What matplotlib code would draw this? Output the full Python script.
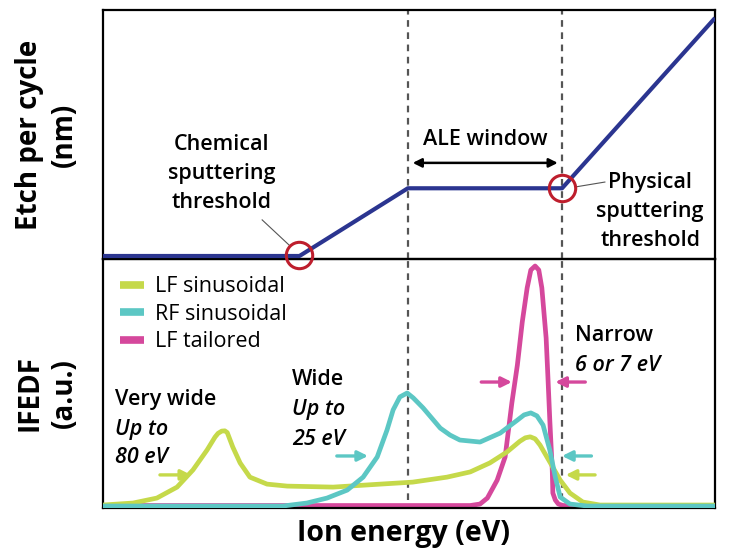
"""Etch per cycle and IFEDF versus ion energy (ALE window illustration)."""

import matplotlib

matplotlib.use("Agg")
import matplotlib.pyplot as plt

# --- top panel: etch per cycle (normalised units) ---
EPC_ENERGY = [0.0, 32.1, 49.8, 75.0, 100.0]
EPC_VALUE = [0.012, 0.012, 0.284, 0.284, 0.968]
CHEM_THRESHOLD = (32.1, 0.016)
PHYS_THRESHOLD = (75.0, 0.284)
ALE_WINDOW = (49.8, 75.0)

# --- bottom panel: ion energy distributions (a.u.) ---
LF_SIN_E = [0.0, 4.9, 8.8, 12.1, 14.7, 17.0, 18.3, 18.8, 19.4, 19.9, 20.3,
            21.2, 22.4, 24.0, 26.8, 30.1, 37.6, 45.3, 50.6, 56.2, 60.0,
            63.2, 66.0, 68.1, 69.0, 69.8, 70.6, 71.4, 73.0, 74.7, 76.3,
            78.4, 81.2, 100.0]
LF_SIN_F = [0.012, 0.020, 0.040, 0.084, 0.153, 0.233, 0.285, 0.300, 0.309,
            0.310, 0.303, 0.245, 0.181, 0.124, 0.096, 0.088, 0.084, 0.096,
            0.104, 0.124, 0.145, 0.181, 0.225, 0.268, 0.282, 0.286, 0.278,
            0.253, 0.185, 0.112, 0.060, 0.024, 0.012, 0.012]

RF_SIN_E = [0.0, 29.4, 33.3, 36.6, 39.9, 42.5, 44.8, 46.4, 47.4, 48.5,
            49.7, 50.7, 52.3, 55.1, 56.7, 58.3, 61.6, 64.9, 67.7, 68.8,
            69.9, 70.9, 71.9, 73.0, 73.9, 74.7, 76.3, 79.1, 100.0]
RF_SIN_F = [0.008, 0.008, 0.020, 0.040, 0.072, 0.124, 0.205, 0.313, 0.394,
            0.446, 0.462, 0.442, 0.402, 0.321, 0.293, 0.273, 0.265, 0.301,
            0.353, 0.374, 0.382, 0.370, 0.333, 0.233, 0.124, 0.044, 0.016,
            0.008, 0.008]

LF_TAIL_E = [0.0, 60.0, 61.6, 62.8, 64.4, 65.7, 66.8, 67.7, 68.5, 69.3,
             69.9, 70.6, 71.2, 71.7, 72.4, 72.7, 73.0, 73.4, 73.5, 73.9,
             74.4, 75.2, 100.0]
LF_TAIL_F = [0.010, 0.010, 0.016, 0.040, 0.112, 0.205, 0.422, 0.574, 0.747,
             0.884, 0.956, 0.972, 0.956, 0.884, 0.683, 0.522, 0.353, 0.153,
             0.060, 0.032, 0.016, 0.010, 0.010]

SERIES_LABELS = ["LF sinusoidal", "RF sinusoidal", "LF tailored"]

NAVY = "#2B3590"
RED = "#BE1E2D"
LIME = "#C5D94A"
TEAL = "#5CC7C4"
PINK = "#D5489C"
DASH = "#555555"

FONT = ["Open Sans", "DejaVu Sans"]
NOTE_SIZE = 15.5
LABEL_SIZE = 20


def _arrow(ax, start, end, color, lw=2.4, style="-|>", scale=15):
    ax.annotate(
        "", xy=end, xytext=start,
        arrowprops=dict(arrowstyle=style, color=color, lw=lw,
                        mutation_scale=scale, shrinkA=0, shrinkB=0),
    )


def main():
    plt.rcParams["font.family"] = FONT
    fig = plt.figure(figsize=(7.38, 5.56), dpi=100)
    ax_top = fig.add_axes([0.1396, 0.5342, 0.8293, 0.4478])
    ax_bot = fig.add_axes([0.1396, 0.0863, 0.8293, 0.4478])
    ax_bot.patch.set_alpha(0)
    ax_top.set_zorder(2)
    ax_top.patch.set_alpha(0)

    for ax in (ax_top, ax_bot):
        ax.set_xlim(0, 100)
        ax.set_ylim(0, 1)
        ax.set_xticks([])
        ax.set_yticks([])
        for spine in ax.spines.values():
            spine.set_linewidth(1.6)
            spine.set_color("black")

    # dashed ALE window bounds
    for x in ALE_WINDOW:
        ax_top.axvline(x, color=DASH, lw=1.6, ls=(0, (3, 2.5)), zorder=1)
        ax_bot.axvline(x, ymin=0.032, color=DASH, lw=1.6, ls=(0, (3, 2.5)),
                       zorder=1)

    # top panel
    ax_top.plot(EPC_ENERGY, EPC_VALUE, color=NAVY, lw=3.0, zorder=3,
                solid_capstyle="butt")
    for cx, cy in (CHEM_THRESHOLD, PHYS_THRESHOLD):
        ax_top.plot(cx, cy, marker="o", ms=19, mfc="none", mec=RED, mew=2.2,
                    clip_on=False, zorder=4)

    note = dict(fontsize=NOTE_SIZE, fontweight="semibold")
    ax_top.text(19.4, 0.345, "Chemical\nsputtering\nthreshold", ha="center",
                va="center", linespacing=1.5, **note)
    ax_top.plot([26.0, 30.4], [0.157, 0.056], color="#555555", lw=0.8)
    ax_top.text(89.4, 0.19, "Physical\nsputtering\nthreshold", ha="center",
                va="center", linespacing=1.5, **note)
    ax_top.plot([77.1, 82.0], [0.289, 0.309], color="#555555", lw=0.8)
    ax_top.text(62.4, 0.48, "ALE window", ha="center", va="center", **note)
    _arrow(ax_top, (50.6, 0.386), (74.3, 0.386), "black", lw=1.8,
           style="<|-|>", scale=13)

    # bottom panel
    styles = dict(lw=3.4, solid_joinstyle="round", solid_capstyle="round")
    ax_bot.plot(LF_SIN_E, LF_SIN_F, color=LIME, label=SERIES_LABELS[0],
                zorder=3, **styles)
    ax_bot.plot(RF_SIN_E, RF_SIN_F, color=TEAL, label=SERIES_LABELS[1],
                zorder=3, **styles)
    ax_bot.plot(LF_TAIL_E, LF_TAIL_F, color=PINK, label=SERIES_LABELS[2],
                zorder=2, **styles)
    legend = ax_bot.legend(loc="upper left", bbox_to_anchor=(0.0, 1.0),
                           frameon=False, fontsize=NOTE_SIZE,
                           handlelength=1.1, handletextpad=0.5,
                           labelspacing=0.3, borderaxespad=0.4)
    for handle in legend.get_lines():
        handle.set_linewidth(5.5)
        handle.set_solid_capstyle("butt")

    bold = dict(fontsize=NOTE_SIZE, fontweight="semibold", va="baseline")
    ital = dict(bold, style="italic")
    ax_bot.text(2.0, 0.414, "Very wide", **bold)
    ax_bot.text(2.0, 0.293, "Up to", **ital)
    ax_bot.text(2.0, 0.181, "80 eV", **ital)
    ax_bot.text(30.9, 0.494, "Wide", **bold)
    ax_bot.text(30.9, 0.373, "Up to", **ital)
    ax_bot.text(30.9, 0.253, "25 eV", **ital)
    ax_bot.text(77.1, 0.671, "Narrow", **bold)
    ax_bot.text(77.1, 0.550, "6 or 7 eV", **ital)

    _arrow(ax_bot, (9.3, 0.133), (14.4, 0.133), LIME)
    _arrow(ax_bot, (38.2, 0.209), (43.3, 0.209), TEAL)
    _arrow(ax_bot, (61.8, 0.506), (66.8, 0.506), PINK)
    _arrow(ax_bot, (78.8, 0.506), (73.9, 0.506), PINK)
    _arrow(ax_bot, (79.8, 0.209), (75.0, 0.209), TEAL)
    _arrow(ax_bot, (80.4, 0.133), (75.6, 0.133), LIME)

    fig.text(0.064, 0.758, "Etch per cycle\n(nm)", rotation=90, ha="center",
             va="center", fontsize=LABEL_SIZE, fontweight="bold",
             linespacing=1.25)
    fig.text(0.064, 0.293, "IFEDF\n(a.u.)", rotation=90, ha="center",
             va="center", fontsize=LABEL_SIZE, fontweight="bold",
             linespacing=1.25)
    fig.text(0.547, 0.04, "Ion energy (eV)", ha="center", va="center",
             fontsize=LABEL_SIZE + 0.5, fontweight="bold")

    fig.savefig("out.png", dpi=100)
    plt.close(fig)


if __name__ == "__main__":
    main()
